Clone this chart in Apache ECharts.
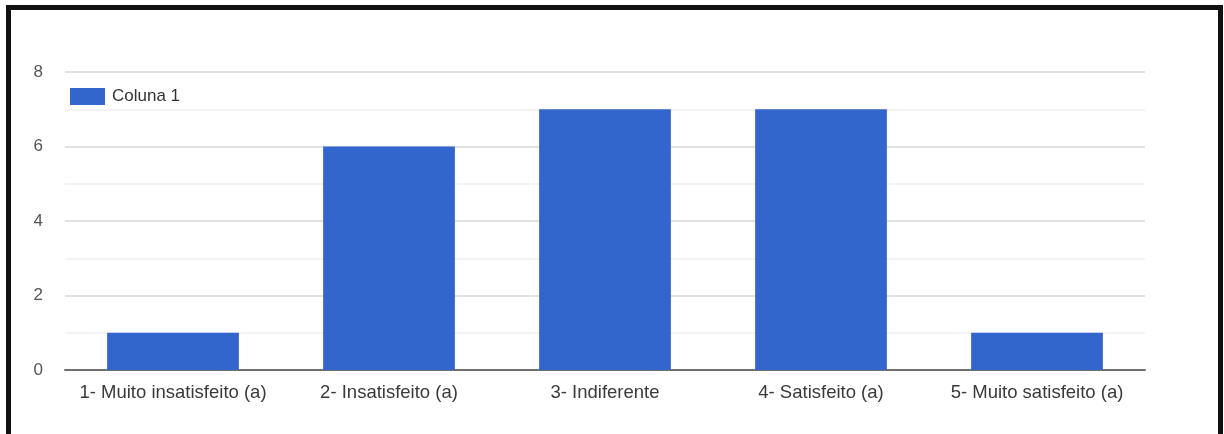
<!DOCTYPE html>
<html>
<head>
<meta charset="utf-8">
<script src="https://cdn.jsdelivr.net/npm/echarts@6/dist/echarts.min.js"></script>
<style>
  html, body { margin: 0; padding: 0; background: #fff; }
  body { width: 1224px; height: 434px; overflow: hidden; position: relative; }
  #frame {
    position: absolute; left: 6px; top: 5px; width: 1217px; height: 600px;
    border: 5px solid #111; box-sizing: border-box;
  }
  #chart { position: absolute; left: 0; top: 0; width: 1224px; height: 434px; }
</style>
</head>
<body>
<div id="frame"></div>
<div id="chart"></div>
<script>
const categories = [
  '1- Muito insatisfeito (a)',
  '2- Insatisfeito (a)',
  '3- Indiferente',
  '4- Satisfeito (a)',
  '5- Muito satisfeito (a)'
];
const seriesName = 'Coluna 1';
const values = [1, 6, 7, 7, 1];

const chart = echarts.init(document.getElementById('chart'), null, { renderer: 'canvas' });
const font = '"Liberation Sans", Arial, sans-serif';

chart.setOption({
  animation: false,
  backgroundColor: 'transparent',
  textStyle: { fontFamily: font },
  grid: { left: 65, right: 79, top: 72, bottom: 64 },
  legend: {
    left: 65, top: 83,
    itemWidth: 35, itemHeight: 17, itemGap: 10,
    icon: 'rect',
    textStyle: { fontSize: 17, color: '#333', fontFamily: font, padding: [0, 0, 0, 2] },
    data: [seriesName]
  },
  xAxis: {
    type: 'category',
    data: categories,
    axisLine: { show: true, lineStyle: { color: '#707070', width: 2 } },
    axisTick: { show: false },
    axisLabel: {
      interval: 0, hideOverlap: false,
      fontSize: 18.5, color: '#3a3a3a', margin: 13, fontFamily: font
    }
  },
  yAxis: {
    type: 'value',
    min: 0, max: 8, interval: 2,
    axisLine: { show: false },
    axisTick: { show: false },
    axisLabel: { fontSize: 17, color: '#555', margin: 22, fontFamily: font },
    splitLine: { lineStyle: { color: '#d9d9d9', width: 1.5 } },
    minorTick: { show: false, splitNumber: 2 },
    minorSplitLine: { show: true, lineStyle: { color: '#efefef', width: 1.5 } }
  },
  series: [{
    name: seriesName,
    type: 'bar',
    data: values,
    barWidth: '61%',
    itemStyle: { color: '#3366cc' }
  }]
});
</script>
</body>
</html>
